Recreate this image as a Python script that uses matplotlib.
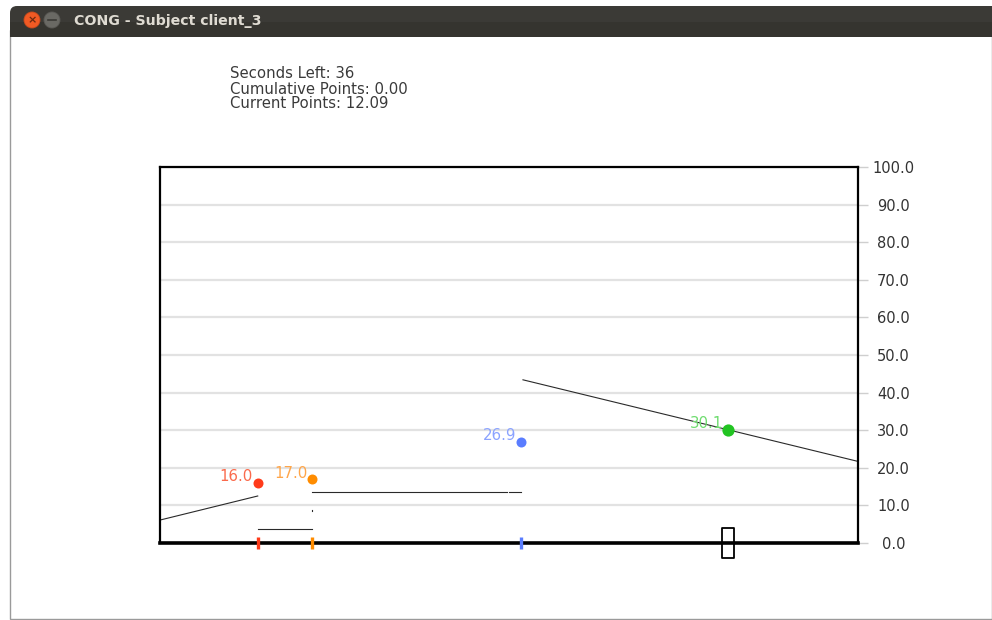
import matplotlib
matplotlib.use("Agg")
import matplotlib.pyplot as plt
from matplotlib.patches import FancyBboxPatch, Circle, Rectangle
from matplotlib.path import Path

# ---- data ----
players = ["p1", "p2", "p3", "p4"]
strategies = [0.140, 0.218, 0.517, 0.814]
payoffs = [16.0, 17.0, 26.9, 30.1]
dot_colors = ["#ff3b1a", "#ff8c00", "#5a7dff", "#22c422"]
label_colors = ["#fa6a4c", "#ffa64a", "#8ba3ff", "#6fdc6f"]
dot_sizes = [7.2, 7.2, 7.2, 8.8]
current_player = 3

# landscape segments: (x0, x1, y0, y1)
seg_x0 = [0.000, 0.140, 0.218, 0.218, 0.500, 0.520]
seg_x1 = [0.140, 0.218, 0.218, 0.497, 0.517, 1.000]
seg_y0 = [6.1, 3.7, 8.5, 13.6, 13.6, 43.4]
seg_y1 = [12.5, 3.7, 8.7, 13.6, 13.6, 21.7]

yticks = [0, 10, 20, 30, 40, 50, 60, 70, 80, 90, 100]
info_lines = ["Seconds Left: 36", "Cumulative Points: 0.00", "Current Points: 12.09"]
window_title = "CONG - Subject client_3"

W, H = 992, 620
fig = plt.figure(figsize=(W / 100, H / 100), dpi=100)
fig.patch.set_facecolor("white")

# ---- window chrome (pixel coordinates) ----
chrome = fig.add_axes([0, 0, 1, 1], zorder=0)
chrome.set_xlim(0, W)
chrome.set_ylim(H, 0)
chrome.axis("off")
chrome.add_patch(Rectangle((10, 30), W - 10, 589, facecolor="white",
                           edgecolor="#9a9a9a", lw=1.0))
chrome.add_patch(FancyBboxPatch((10, 6), W + 20, 24, boxstyle="round,pad=0,rounding_size=7",
                                facecolor="#3b3a36", edgecolor="none"))
chrome.add_patch(Rectangle((10, 22), W, 15, facecolor="#35342f", edgecolor="none"))
chrome.add_patch(Circle((32, 20), 8, facecolor="#f05a24", edgecolor="#c94a1c", lw=0.6))
chrome.text(32, 20.5, "×", color="#6b2a10", ha="center", va="center", fontsize=8, fontweight="bold")
chrome.add_patch(Circle((52, 20), 8, facecolor="#6a6964", edgecolor="#5a5955", lw=0.6))
chrome.plot([48, 56], [20, 20], color="#3b3a36", lw=1.2)
chrome.text(74, 21, window_title, color="#dfdbd2", ha="left", va="center",
            fontsize=10.2, fontweight="bold", family="DejaVu Sans")
for i, line in enumerate(info_lines):
    chrome.text(230, 74 + i * 15, line, color="#3a3a3a", ha="left", va="center",
                fontsize=10.7, family="DejaVu Sans")

# ---- main axes ----
left, right, top, bottom = 160, 858, 167, 543
ax = fig.add_axes([left / W, (H - bottom) / H, (right - left) / W, (bottom - top) / H], zorder=1)
ax.set_facecolor("white")
ax.set_xlim(0, 1)
ax.set_ylim(0, 100)
ax.set_xticks([])
ax.set_yticks(yticks)
ax.set_yticklabels([f"{v:.1f}" for v in yticks])
ax.yaxis.tick_right()
ax.tick_params(axis="y", direction="out", length=7, width=1, color="#cfcfcf",
               labelcolor="#333333", labelsize=10.5, pad=18.5)
for lab in ax.get_yticklabels():
    lab.set_horizontalalignment("center")
ax.grid(axis="y", color="#e2e2e2", lw=1.6, zorder=0)
for s in ["left", "top", "right"]:
    ax.spines[s].set_linewidth(1.6)
    ax.spines[s].set_color("black")
ax.spines["bottom"].set_linewidth(2.6)
ax.spines["bottom"].set_color("black")
ax.spines["bottom"].set_zorder(5)

for x0, x1, y0, y1 in zip(seg_x0, seg_x1, seg_y0, seg_y1):
    ax.plot([x0, x1], [y0, y1], color="#2a2a2a", lw=0.8, zorder=2)

rect_path = Path([(-0.19, -0.5), (0.19, -0.5), (0.19, 0.5), (-0.19, 0.5), (-0.19, -0.5)],
                 [Path.MOVETO, Path.LINETO, Path.LINETO, Path.LINETO, Path.CLOSEPOLY])

for i, (x, y) in enumerate(zip(strategies, payoffs)):
    ax.plot([x], [y], "o", color=dot_colors[i], ms=dot_sizes[i], mec="none", zorder=4)
    ax.annotate(f"{y:.1f}", (x, y), xytext=(-5, 6), textcoords="offset pixels",
                ha="right", va="center", color=label_colors[i], fontsize=10.8, zorder=3)
    if i == current_player:
        ax.plot([x], [0], marker=rect_path, ms=21, mfc="none", mec="black", mew=1.3,
                clip_on=False, zorder=6)
    else:
        ax.plot([x], [0], marker="|", ms=8, mew=2.4, color=dot_colors[i],
                clip_on=False, zorder=6)

fig.savefig("out.png", dpi=100, facecolor="white")
